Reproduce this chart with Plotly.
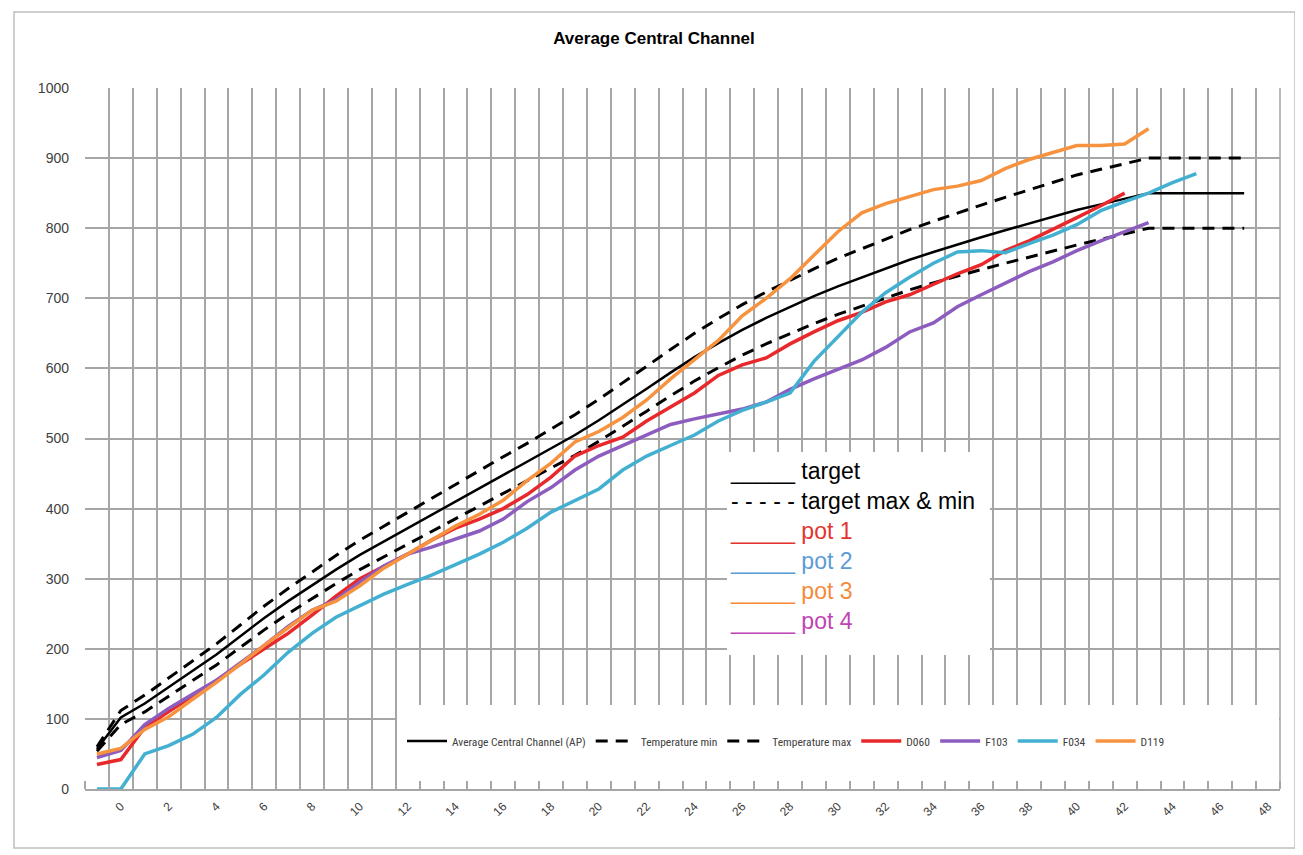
import plotly.graph_objects as go

# ---------------- data ----------------
x_target = list(range(-1, 48))
target = [57, 102, 122, 145, 168, 192, 218, 244, 268, 291, 313, 334, 353, 372, 391, 410,
          429, 448, 466, 485, 505, 526, 548, 571, 594, 616, 636, 655, 672, 688, 703, 717,
          730, 743, 755, 766, 777, 787, 797, 807, 817, 826, 834, 842, 850, 850, 850, 850, 850]
temp_max = [60, 112, 134, 158, 182, 207, 234, 261, 286, 310, 333, 355, 375, 395, 414, 434,
            454, 474, 493, 513, 534, 556, 579, 603, 627, 650, 671, 691, 709, 726, 742, 757,
            771, 785, 798, 810, 822, 833, 844, 855, 866, 876, 884, 892, 900, 900, 900, 900, 900]
temp_min = [54, 92, 110, 132, 154, 177, 202, 227, 250, 272, 293, 313, 331, 349, 368, 386,
            404, 422, 439, 457, 476, 496, 517, 539, 561, 582, 601, 619, 635, 650, 664, 677,
            689, 701, 712, 722, 732, 741, 750, 759, 768, 776, 784, 792, 800, 800, 800, 800, 800]

x_d060 = list(range(-1, 43))
d060 = [35, 42, 88, 110, 132, 155, 178, 200, 222, 248, 275, 300, 318, 335, 355, 372, 385,
        400, 420, 445, 475, 490, 502, 525, 545, 565, 590, 605, 615, 635, 652, 668, 680, 695,
        705, 720, 735, 748, 768, 782, 798, 815, 832, 850]

x_f103 = list(range(-1, 44))
f103 = [45, 55, 92, 115, 135, 155, 180, 205, 232, 255, 270, 295, 318, 335, 345, 357, 368,
        385, 410, 430, 455, 475, 490, 505, 520, 528, 535, 542, 552, 570, 585, 598, 612, 630,
        652, 665, 688, 705, 722, 738, 752, 768, 782, 795, 808]

x_f034 = list(range(-1, 46))
f034 = [0, 0, 50, 62, 78, 102, 135, 163, 195, 222, 245, 262, 278, 292, 305, 320, 335, 352,
        372, 395, 412, 428, 455, 475, 490, 505, 525, 540, 552, 565, 610, 645, 680, 708, 730,
        750, 766, 768, 765, 778, 790, 805, 825, 838, 850, 865, 878]

x_d119 = list(range(-1, 44))
d119 = [50, 58, 85, 103, 128, 152, 178, 205, 230, 255, 268, 290, 315, 335, 355, 375, 392,
        412, 440, 465, 495, 510, 530, 555, 585, 612, 640, 675, 700, 728, 762, 795, 822, 835,
        845, 855, 860, 868, 885, 898, 908, 918, 918, 920, 942]

x_tick_vals = list(range(0, 49, 2))
y_tick_vals = list(range(0, 1001, 100))

series = [
    ("Average Central Channel (AP)", x_target, target, "#000000", 2.5, "solid"),
    ("Temperature min", x_target, temp_min, "#000000", 3, "12px,8px"),
    ("Temperature max", x_target, temp_max, "#000000", 3, "12px,8px"),
    ("D060", x_d060, d060, "#e8282b", 3.5, "solid"),
    ("F103", x_f103, f103, "#8c5cbf", 3.5, "solid"),
    ("F034", x_f034, f034, "#43b0d1", 3.5, "solid"),
    ("D119", x_d119, d119, "#f7923f", 3.5, "solid"),
]

fig = go.Figure()
for name, xs, ys, col, w, dash in series:
    fig.add_trace(go.Scatter(x=xs, y=ys, mode="lines", name=name,
                             line=dict(color=col, width=w, dash=dash)))

# ---------------- layout helpers (page pixel -> paper) ----------------
OFF = 8                      # page body margin
W, H = 1303 - OFF, 855 - OFF
L, R, T, B = 85 - OFF, 1280 - OFF, 88 - OFF, 789 - OFF
def px(xp):
    return (xp - OFF - L) / (R - L)
def py(yp):
    return (B - (yp - OFF)) / (B - T)

grid = "#a6a6a6"
narrow = "Liberation Sans Narrow, Roboto Condensed, Lato, sans-serif"
sans = "Liberation Sans, Arial, sans-serif"

fig.update_layout(
    width=W, height=H,
    margin=dict(l=L, r=W - R, t=T, b=H - B),
    paper_bgcolor="white", plot_bgcolor="white",
    title=dict(text="<b>Average Central Channel</b>", x=(654 - OFF) / W, xref="container",
               xanchor="center", y=1 - (38 - OFF) / H, yref="container", yanchor="middle",
               font=dict(family=sans, size=17, color="#000000")),
    showlegend=True,
    legend=dict(orientation="h", x=px(402), xanchor="left", y=py(741), yanchor="middle",
                bgcolor="rgba(0,0,0,0)", font=dict(family=narrow, size=11.5, color="#404040"),
                itemwidth=40, traceorder="normal"),
    xaxis=dict(range=[-1.5, 48.5], tickmode="array", tickvals=x_tick_vals,
               ticktext=[str(v) for v in x_tick_vals], tickangle=-45, ticks="",
               ticklabelstandoff=4,
               showgrid=False, zeroline=False, showline=True, linecolor=grid, linewidth=1.5,
               tickfont=dict(family=sans, size=12, color="#404040"),
               minor=dict(tickmode="linear", tick0=0.5, dtick=1, showgrid=True,
                          gridcolor=grid, gridwidth=1.5, ticks="inside", ticklen=8,
                          tickcolor=grid, tickwidth=1.5)),
    yaxis=dict(range=[0, 1000], tickmode="array", tickvals=y_tick_vals, showgrid=True,
               gridcolor=grid, gridwidth=1.5, zeroline=False, showline=False, ticks="",
               ticklabelstandoff=15,
               tickfont=dict(family=sans, size=14, color="#404040")),
)

shapes = [
    # white box behind legend
    dict(type="rect", xref="paper", yref="paper", x0=px(397), x1=px(1279), y0=py(781), y1=py(705),
         fillcolor="white", line=dict(width=0), layer="above"),
    # white box behind text annotation
    dict(type="rect", xref="paper", yref="paper", x0=px(727), x1=px(990), y0=py(655), y1=py(452),
         fillcolor="white", line=dict(width=0), layer="above"),
    # right border line of plot area
    dict(type="line", xref="paper", yref="paper", x0=1, x1=1, y0=0, y1=1,
         line=dict(color=grid, width=1.5), layer="above"),
    # outer chart border
    dict(type="rect", xref="paper", yref="paper", x0=px(14), x1=px(1295), y0=py(848), y1=py(12),
         line=dict(color="#bfbfbf", width=1.5), fillcolor="rgba(0,0,0,0)", layer="below"),
]
fig.update_layout(shapes=shapes)

note = ("_____ target<br>"
        "- - - - - target max &amp; min<br>"
        "<span style='color:#e3342f'>_____ pot 1</span><br>"
        "<span style='color:#5b9bd5'>_____ pot 2</span><br>"
        "<span style='color:#f58a3c'>_____ pot 3</span><br>"
        "<span style='color:#c044b4'>_____ pot 4</span>")
fig.add_annotation(text=note, xref="paper", yref="paper", x=px(728), y=py(456),
                   xanchor="left", yanchor="top", align="left", showarrow=False,
                   font=dict(family=sans, size=23, color="#000000"))

fig.write_html("out.html")
